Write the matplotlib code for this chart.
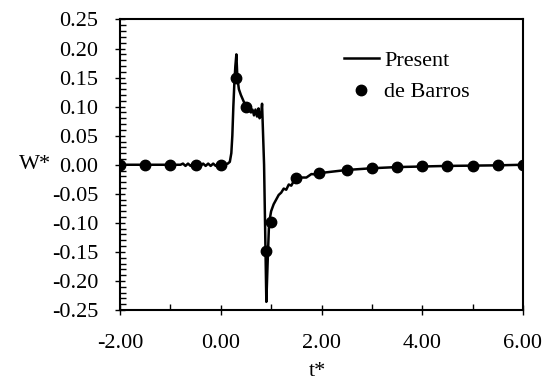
import matplotlib
matplotlib.use("Agg")
import matplotlib.pyplot as plt
from matplotlib.ticker import MultipleLocator, FormatStrFormatter

# Present (line)
present_t = [-2.0, -1.0, -0.8, -0.75, -0.7, -0.65, -0.6, -0.55, -0.5, -0.45, -0.4, -0.35,
             -0.3, -0.25, -0.2, -0.15, -0.1, -0.05, 0.0, 0.05, 0.1, 0.14, 0.18, 0.21,
             0.23, 0.25, 0.27, 0.29, 0.31, 0.33, 0.36, 0.40, 0.45, 0.50, 0.55, 0.60,
             0.63, 0.66, 0.69, 0.72, 0.75, 0.77, 0.80, 0.82, 0.86, 0.905, 0.93, 0.955,
             0.98, 1.0, 1.05, 1.1, 1.15, 1.2, 1.25, 1.3, 1.35, 1.4, 1.45, 1.5, 1.6, 1.7,
             1.8, 1.9, 2.0, 2.2, 2.5, 3.0, 3.5, 4.0, 4.5, 5.0, 5.5, 6.0]
present_w = [0.0, 0.0, 0.0, 0.002, -0.002, 0.002, -0.002, 0.002, -0.002, 0.002, -0.002, 0.002,
             -0.002, 0.002, -0.002, 0.002, -0.002, 0.002, -0.001, 0.001, 0.001, 0.002, 0.005, 0.02,
             0.05, 0.10, 0.14, 0.17, 0.19, 0.15, 0.13, 0.12, 0.11, 0.10, 0.095, 0.09,
             0.095, 0.085, 0.095, 0.083, 0.097, 0.08, 0.085, 0.105, 0.0, -0.236, -0.17, -0.11,
             -0.09, -0.08, -0.068, -0.06, -0.052, -0.048, -0.041, -0.043, -0.034, -0.036, -0.028, -0.029, -0.022, -0.022,
             -0.016, -0.017, -0.014, -0.012, -0.009, -0.006, -0.004, -0.003, -0.002, -0.0015, -0.001, 0.0]

# de Barros (markers)
barros_t = [-2.0, -1.5, -1.0, -0.5, 0.0, 0.31, 0.51, 0.89, 1.0, 1.5, 1.95, 2.5, 3.0, 3.5,
            4.0, 4.5, 5.0, 5.5, 6.0]
barros_w = [0.0, 0.0, 0.0, 0.0, 0.0, 0.15, 0.10, -0.148, -0.099, -0.023, -0.015, -0.009,
            -0.006, -0.004, -0.003, -0.0025, -0.0015, -0.001, 0.0]

xticks = [-2.0, 0.0, 2.0, 4.0, 6.0]
yticks = [0.25, 0.20, 0.15, 0.10, 0.05, 0.0, -0.05, -0.10, -0.15, -0.20, -0.25]

plt.rcParams['font.family'] = ['Liberation Serif', 'DejaVu Serif']
plt.rcParams['font.size'] = 16

fig = plt.figure(figsize=(5.54, 3.81), dpi=100)
ax = fig.add_axes([120/554, 1-310/381, 403/554, 290.5/381])

ax.plot(present_t, present_w, color='black', lw=1.8, label='Present', zorder=2)
ax.plot(barros_t, barros_w, 'o', color='black', ms=7.5, label='de Barros', zorder=3)

ax.set_xlim(-2, 6)
ax.set_ylim(-0.25, 0.25)
ax.set_xticks(xticks)
ax.set_yticks(yticks)
ax.xaxis.set_major_formatter(FormatStrFormatter('%.2f'))
ax.yaxis.set_major_formatter(FormatStrFormatter('%.2f'))
ax.xaxis.set_minor_locator(MultipleLocator(1.0))
ax.yaxis.set_minor_locator(MultipleLocator(0.01))
ax.tick_params(axis='both', which='major', direction='inout', length=7, width=1.0,
               top=False, right=False)
ax.tick_params(axis='both', which='minor', direction='in', length=4, width=1.0,
               top=False, right=False)
ax.tick_params(axis='y', which='major', pad=12)
ax.tick_params(axis='x', which='major', pad=14)

for s in ax.spines.values():
    s.set_linewidth(1.5)

ax.set_xlabel('t*', va='center')
ax.xaxis.set_label_coords(0.49, -0.213)
ax.set_ylabel('W*', rotation=0, ha='center', va='center')
ax.yaxis.set_label_coords(-0.21, 0.5)

ax.legend(loc='upper left', bbox_to_anchor=(0.505, 0.963), frameon=False,
          handlelength=1.6, handletextpad=0.22, labelspacing=0.5, fontsize=16)

fig.savefig('out.png', dpi=100)
